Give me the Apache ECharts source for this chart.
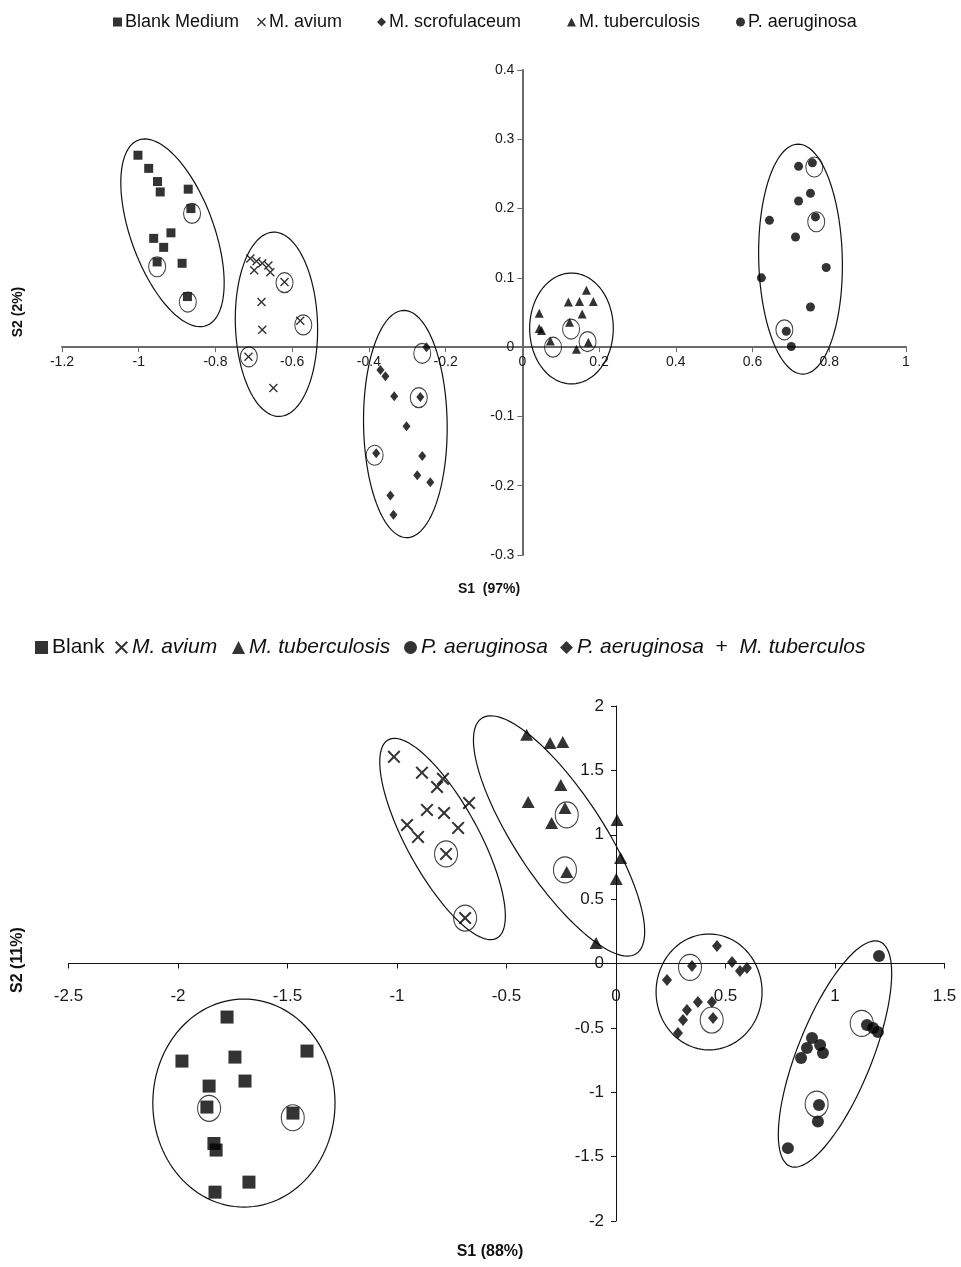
<!DOCTYPE html>
<html><head><meta charset="utf-8">
<script src="https://cdn.jsdelivr.net/npm/echarts@6/dist/echarts.min.js"></script>
<style>html,body{margin:0;padding:0;background:#fff}#c{width:961px;height:1267px}</style>
</head><body><div id="c"></div>
<script>
// ---------- TOP CHART DATA ----------
const topNames = ['Blank Medium','M. avium','M. scrofulaceum','M. tuberculosis','P. aeruginosa'];
const blankTop = [[-1.002,0.277],[-0.974,0.258],[-0.951,0.239],[-0.944,0.224],[-0.871,0.228],[-0.864,0.200],[-0.916,0.165],[-0.961,0.157],[-0.935,0.144],[-0.952,0.123],[-0.887,0.121],[-0.873,0.073]];
const aviumTop = [[-0.709,0.128],[-0.693,0.124],[-0.678,0.121],[-0.662,0.118],[-0.699,0.111],[-0.657,0.108],[-0.620,0.094],[-0.680,0.065],[-0.579,0.038],[-0.678,0.025],[-0.714,-0.014],[-0.649,-0.059]];
const scrofTop = [[-0.250,0.000],[-0.370,-0.033],[-0.357,-0.042],[-0.334,-0.071],[-0.266,-0.072],[-0.302,-0.114],[-0.381,-0.153],[-0.261,-0.157],[-0.274,-0.185],[-0.240,-0.195],[-0.344,-0.214],[-0.336,-0.242]];
const tbTop = [[0.167,0.082],[0.120,0.065],[0.149,0.066],[0.185,0.066],[0.044,0.049],[0.156,0.048],[0.123,0.036],[0.044,0.027],[0.050,0.024],[0.073,0.009],[0.141,-0.003],[0.172,0.007]];
const aerTop = [[0.720,0.261],[0.756,0.266],[0.751,0.222],[0.720,0.211],[0.764,0.188],[0.644,0.183],[0.712,0.159],[0.792,0.115],[0.623,0.100],[0.751,0.058],[0.688,0.023],[0.701,0.001]];
const circTop = [[-0.861,0.193],[-0.952,0.116],[-0.872,0.065],[-0.620,0.093],[-0.571,0.032],[-0.713,-0.014],[-0.261,-0.009],[-0.270,-0.073],[-0.385,-0.156],[0.127,0.026],[0.080,0.000],[0.170,0.008],[0.761,0.260],[0.766,0.181],[0.683,0.025]];
// ellipse: center x,y ; major-axis end x,y ; minor-axis end x,y (data units)
const ellTop = [
 [-0.912,0.165,-1.000,0.299,-0.810,0.185],
 [-0.641,0.033,-0.649,0.166,-0.534,0.035],
 [-0.305,-0.111,-0.308,0.053,-0.196,-0.112],
 [0.128,0.027,0.128,0.107,0.237,0.027],
 [0.725,0.127,0.719,0.293,0.834,0.127]];
const topXTicks = [-1.2,1,0.2];   // min, max, interval
const topYTicks = [-0.3,0.4,0.1];

// ---------- BOTTOM CHART DATA ----------
const botNames = ['Blank','M. avium','M. tuberculosis','P. aeruginosa','P. aeruginosa + M. tuberculos'];
const blankBot = [[-1.776,-0.416],[-1.411,-0.680],[-1.982,-0.758],[-1.740,-0.727],[-1.694,-0.913],[-1.858,-0.952],[-1.868,-1.115],[-1.475,-1.162],[-1.836,-1.398],[-1.826,-1.449],[-1.676,-1.698],[-1.831,-1.776]];
const aviumBot = [[-1.014,1.605],[-0.886,1.482],[-0.790,1.434],[-0.817,1.371],[-0.671,1.247],[-0.863,1.193],[-0.785,1.169],[-0.954,1.076],[-0.721,1.053],[-0.904,0.983],[-0.776,0.851],[-0.689,0.353]];
const tbBot = [[-0.408,1.776],[-0.301,1.713],[-0.243,1.721],[-0.252,1.387],[-0.401,1.254],[-0.233,1.208],[-0.294,1.091],[0.005,1.115],[0.021,0.820],[-0.225,0.711],[0.001,0.657],[-0.091,0.159]];
const aerBot = [[1.201,0.058],[1.146,-0.478],[1.174,-0.501],[1.196,-0.532],[0.895,-0.579],[0.932,-0.633],[0.872,-0.657],[0.945,-0.695],[0.845,-0.734],[0.927,-1.099],[0.922,-1.228],[0.785,-1.434]];
const mixBot = [[0.461,0.136],[0.530,0.012],[0.347,-0.019],[0.566,-0.058],[0.598,-0.035],[0.233,-0.128],[0.374,-0.299],[0.438,-0.299],[0.324,-0.361],[0.306,-0.439],[0.443,-0.424],[0.283,-0.540]];
const circBot = [[-1.858,-1.125],[-1.476,-1.198],[-0.776,0.851],[-0.689,0.353],[-0.225,1.154],[-0.233,0.727],[0.338,-0.030],[0.437,-0.439],[1.122,-0.465],[0.916,-1.092]];
const ellBot = [
 [-1.699,-1.084,-1.699,-0.276,-1.283,-1.084],
 [-0.792,0.967,-1.040,1.737,-0.648,1.102],
 [-0.260,0.991,-0.613,1.905,-0.092,1.179],
 [0.425,-0.221,0.425,0.229,0.667,-0.221],
 [1.000,-0.703,1.205,0.169,1.158,-0.811]];
const botXTicks = [-2.5,1.5,0.5];
const botYTicks = [-2,2,0.5];

// ---------- RENDERING ----------
const FONT = 'Liberation Sans, Arial, sans-serif';
const XSYM = 'path://M0,1.1L1.1,0L5,3.9L8.9,0L10,1.1L6.1,5L10,8.9L8.9,10L5,6.1L1.1,10L0,8.9L3.9,5Z';
const ZW = '\u200b';
const topLegLeft = [108, 252, 372, 562, 731];
const botLegLeft = [30, 110, 227, 399, 555];

function ellipseRender(params, api){
  const c = api.coord([api.value(0), api.value(1)]);
  const a = api.coord([api.value(2), api.value(3)]);
  const b = api.coord([api.value(4), api.value(5)]);
  const ux=a[0]-c[0], uy=a[1]-c[1], vx=b[0]-c[0], vy=b[1]-c[1];
  const pts=[];
  for(let i=0;i<120;i++){const t=i/120*2*Math.PI;
    pts.push([c[0]+Math.cos(t)*ux+Math.sin(t)*vx, c[1]+Math.cos(t)*uy+Math.sin(t)*vy]);}
  return {type:'polygon', shape:{points:pts}, style:{fill:'rgba(0,0,0,0)', stroke:'#111', lineWidth:1.2}};
}
function fmt(v){ return String(Math.round(v*10)/10); }
function axis(t, gi, col, lw, fs, margin){
  return {type:'value', gridIndex:gi, min:t[0], max:t[1], interval:t[2],
    axisLine:{onZero:false, lineStyle:{color:col, width:lw}},
    axisTick:{show:true, length:5, lineStyle:{color:col, width:1}},
    axisLabel:{fontSize:fs, color:'#1a1a1a', fontFamily:FONT, margin:margin, formatter:fmt},
    splitLine:{show:false}};
}
function sc(name, data, sym, size, gi){
  return {type:'scatter', name:name, xAxisIndex:gi, yAxisIndex:gi, data:data, symbol:sym, symbolSize:size,
    itemStyle:{color:'#000'}, z:3, silent:true};
}
function ring(data, size, gi){
  return {type:'scatter', name:'ring'+gi, xAxisIndex:gi, yAxisIndex:gi, data:data, symbol:'circle', symbolSize:size,
    itemStyle:{color:'rgba(0,0,0,0)', borderColor:'#111', borderWidth:1.1}, z:4, silent:true};
}
function ell(data, gi){
  return {type:'custom', name:'ell'+gi, xAxisIndex:gi, yAxisIndex:gi, data:data,
    dimensions:['cx','cy','ax','ay','bx','by'], encode:{x:[0,2,4], y:[1,3,5]},
    renderItem:ellipseRender, z:1, silent:true};
}
const botSer = botNames.map(n=>n+ZW);
function botFmt(n){ n=n.replace(ZW,'');
  if(n==='Blank') return '{n|Blank}';
  if(n.indexOf(' + ')>0){ const p=n.split(' + '); return '{i|'+p[0]+'}{n|  +  }{i|'+p[1]+'}'; }
  return '{i|'+n+'}'; }

const legends = [];
topNames.forEach((n,i)=>legends.push({data:[n], left:topLegLeft[i], top:8, itemWidth:9, itemHeight:9, selectedMode:false,
  textStyle:{fontSize:18, fontFamily:FONT, color:'#111', padding:[0,0,0,-2]}}));
botSer.forEach((n,i)=>legends.push({data:[n], left:botLegLeft[i], top:632, itemWidth:13, itemHeight:13, selectedMode:false,
  formatter:botFmt,
  textStyle:{fontSize:21, fontFamily:FONT, color:'#111', padding:[0,0,0,-1],
    rich:{n:{fontSize:21, lineHeight:24, fontFamily:FONT, color:'#111'},
          i:{fontSize:21, lineHeight:24, fontFamily:FONT, fontStyle:'italic', color:'#111'}}}}));

const chart = echarts.init(document.getElementById('c'), null, {renderer:'canvas'});
chart.setOption({
  animation:false,
  backgroundColor:'#fff',
  grid:[{left:62, width:844, top:70, height:485},
        {left:68.5, width:876, top:706, height:515}],
  xAxis:[axis(topXTicks,0,'#6a6a6a',2,14,8), axis(botXTicks,1,'#111',1,17,24)],
  yAxis:[axis(topYTicks,0,'#6a6a6a',2,14,8), axis(botYTicks,1,'#111',1,17,12)],
  legend:legends,
  graphic:[
    {type:'text', x:489, y:589, style:{text:'S1  (97%)', font:'bold 14px '+FONT, fill:'#111', textAlign:'center', textVerticalAlign:'middle'}},
    {type:'text', x:18, y:312, rotation:Math.PI/2, style:{text:'S2 (2%)', font:'bold 14px '+FONT, fill:'#111', textAlign:'center', textVerticalAlign:'middle'}},
    {type:'text', x:490, y:1252, style:{text:'S1 (88%)', font:'bold 16px '+FONT, fill:'#111', textAlign:'center', textVerticalAlign:'middle'}},
    {type:'text', x:18, y:960, rotation:Math.PI/2, style:{text:'S2 (11%)', font:'bold 16px '+FONT, fill:'#111', textAlign:'center', textVerticalAlign:'middle'}}
  ],
  series:[
    ell(ellTop,0),
    sc(topNames[0], blankTop, 'rect', 9, 0),
    sc(topNames[1], aviumTop, XSYM, 9, 0),
    sc(topNames[2], scrofTop, 'diamond', [8,10], 0),
    sc(topNames[3], tbTop, 'triangle', [9,9], 0),
    sc(topNames[4], aerTop, 'circle', 9, 0),
    ring(circTop, [17,20], 0),
    ell(ellBot,1),
    sc(botSer[0], blankBot, 'rect', 13, 1),
    sc(botSer[1], aviumBot, XSYM, 13, 1),
    sc(botSer[2], tbBot, 'triangle', [13,12], 1),
    sc(botSer[3], aerBot, 'circle', 12, 1),
    sc(botSer[4], mixBot, 'diamond', [10,12], 1),
    ring(circBot, [23,26], 1)
  ]
});
// move axes to cross at zero (computed through the axis scales)
function zeroOffsets(gi, xt, yt){
  const x0 = chart.convertToPixel({xAxisIndex:gi}, 0), xmin = chart.convertToPixel({xAxisIndex:gi}, xt[0]);
  const y0 = chart.convertToPixel({yAxisIndex:gi}, 0), ymin = chart.convertToPixel({yAxisIndex:gi}, yt[0]);
  return {x: y0 - ymin, y: xmin - x0};
}
const o0 = zeroOffsets(0, topXTicks, topYTicks), o1 = zeroOffsets(1, botXTicks, botYTicks);
chart.setOption({xAxis:[{offset:o0.x},{offset:o1.x}], yAxis:[{offset:o0.y},{offset:o1.y}]});
</script></body></html>
